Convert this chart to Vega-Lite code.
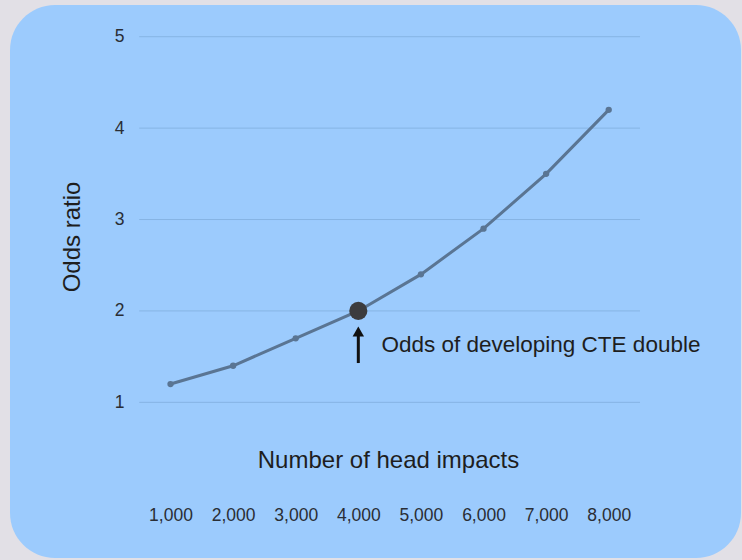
{
  "$schema": "https://vega.github.io/schema/vega-lite/v6.json",
  "width": 731,
  "height": 553,
  "autosize": {"type": "none"},
  "padding": {"left": 10, "top": 5, "right": 1, "bottom": 2},
  "background": "#e2e0e6",
  "config": {
    "view": {"fill": "#9ccbfd", "stroke": null, "cornerRadius": 45},
    "font": "Liberation Sans"
  },
  "data": {
    "values": [
      {"impacts": 1000, "odds": 1.2},
      {"impacts": 2000, "odds": 1.4},
      {"impacts": 3000, "odds": 1.7},
      {"impacts": 4000, "odds": 2.0},
      {"impacts": 5000, "odds": 2.4},
      {"impacts": 6000, "odds": 2.9},
      {"impacts": 7000, "odds": 3.5},
      {"impacts": 8000, "odds": 4.2}
    ]
  },
  "layer": [
    {
      "data": {"values": [{"g": 1}, {"g": 2}, {"g": 3}, {"g": 4}, {"g": 5}]},
      "mark": {"type": "rule", "color": "#86b4e4", "strokeWidth": 1},
      "encoding": {
        "x": {
          "datum": 500,
          "type": "quantitative",
          "scale": {"domain": [-1564, 10113], "nice": false, "zero": false},
          "axis": {
            "values": [1000, 2000, 3000, 4000, 5000, 6000, 7000, 8000],
            "labelExpr": "format(datum.value, ',d')",
            "labelFontSize": 17.5,
            "labelColor": "#2a2e35",
            "domain": false,
            "ticks": false,
            "grid": false,
            "offset": -56,
            "labelPadding": 4,
            "title": "Number of head impacts",
            "titleFontSize": 24,
            "titleFontWeight": "normal",
            "titleColor": "#1e1e1e",
            "titleX": 378,
            "titleY": -42,
            "titleAlign": "center",
            "titleBaseline": "middle"
          }
        },
        "x2": {"datum": 8500},
        "y": {
          "field": "g",
          "type": "quantitative",
          "scale": {"domain": [-0.703, 5.347], "nice": false, "zero": false},
          "axis": {
            "values": [1, 2, 3, 4, 5],
            "labelExpr": "format(datum.value, 'd')",
            "labelFontSize": 17.5,
            "labelColor": "#2a2e35",
            "domain": false,
            "ticks": false,
            "grid": false,
            "offset": -120,
            "labelPadding": 6,
            "title": "Odds ratio",
            "titleFontSize": 24,
            "titleFontWeight": "normal",
            "titleColor": "#1e1e1e",
            "titleX": -58,
            "titleY": 231.5,
            "titleAngle": -90,
            "titleAlign": "center",
            "titleBaseline": "middle"
          }
        }
      }
    },
    {
      "mark": {"type": "line", "color": "#5a7593", "strokeWidth": 3},
      "encoding": {
        "x": {"field": "impacts", "type": "quantitative", "title": "Number of head impacts"},
        "y": {"field": "odds", "type": "quantitative", "title": "Odds ratio"}
      }
    },
    {
      "mark": {"type": "point", "filled": true, "color": "#5a7593", "size": 40, "opacity": 1},
      "encoding": {
        "x": {"field": "impacts", "type": "quantitative", "title": "Number of head impacts"},
        "y": {"field": "odds", "type": "quantitative", "title": "Odds ratio"}
      }
    },
    {
      "transform": [{"filter": "datum.impacts == 4000"}],
      "mark": {"type": "point", "filled": true, "color": "#3c3c3e", "size": 330, "opacity": 1},
      "encoding": {
        "x": {"field": "impacts", "type": "quantitative", "title": "Number of head impacts"},
        "y": {"field": "odds", "type": "quantitative", "title": "Odds ratio"}
      }
    },
    {
      "data": {"values": [{}]},
      "mark": {"type": "rule", "color": "#111111", "strokeWidth": 3},
      "encoding": {
        "x": {"datum": 4000, "type": "quantitative", "title": "Number of head impacts"},
        "y": {"datum": 1.43, "type": "quantitative", "title": "Odds ratio"},
        "y2": {"datum": 1.74}
      }
    },
    {
      "data": {"values": [{}]},
      "mark": {"type": "point", "shape": "triangle-up", "filled": true, "color": "#111111", "size": 130, "opacity": 1},
      "encoding": {
        "x": {"datum": 4000, "type": "quantitative", "title": "Number of head impacts"},
        "y": {"datum": 1.775, "type": "quantitative", "title": "Odds ratio"}
      }
    },
    {
      "data": {"values": [{"label": "Odds of developing CTE double"}]},
      "mark": {"type": "text", "align": "left", "baseline": "middle", "fontSize": 22.5, "color": "#1e1e1e"},
      "encoding": {
        "x": {"datum": 4370, "type": "quantitative", "title": "Number of head impacts"},
        "y": {"datum": 1.63, "type": "quantitative", "title": "Odds ratio"},
        "text": {"field": "label"}
      }
    }
  ]
}
